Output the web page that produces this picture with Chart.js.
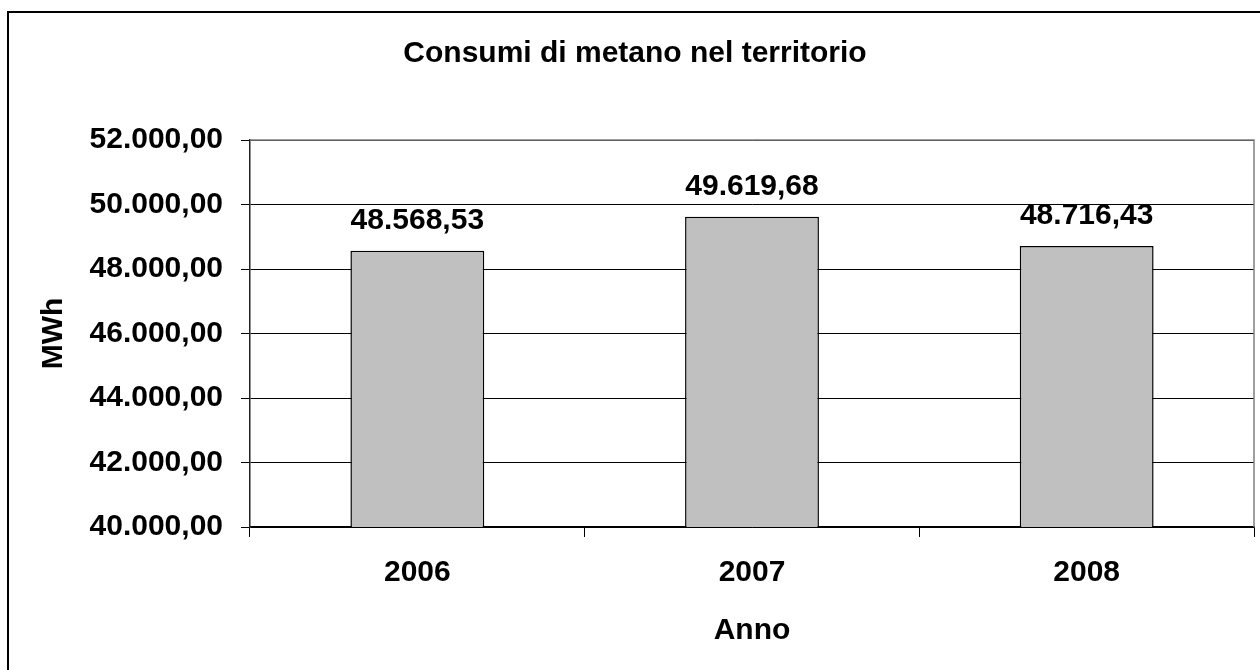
<!DOCTYPE html>
<html>
<head>
<meta charset="utf-8">
<script src="https://cdn.jsdelivr.net/npm/chart.js@4/dist/chart.umd.min.js"></script>
<style>
    body { margin: 0; background: #fff; }
    #wrap { position: relative; width: 1260px; height: 670px; overflow: hidden; }
    #frame {
        position: absolute; left: 7px; top: 11px; width: 1400px; height: 800px;
        border-top: 2px solid #000; border-left: 2px solid #000;
    }
    #chart { position: absolute; left: 0; top: 0; }
</style>
</head>
<body>
<div id="wrap">
    <div id="frame"></div>
    <canvas id="chart" width="1260" height="670"></canvas>
</div>
<script>
const anni = ['2006', '2007', '2008'];
const consumi = [48568.53, 49619.68, 48716.43];
const yMin = 40000;
const yMax = 52000;
const yStep = 2000;

const FONT = 'Arial, "Liberation Sans", sans-serif';

// formato italiano: 48.568,53
function fmt(v) {
    const parts = v.toFixed(2).split('.');
    const intPart = parts[0].replace(/\B(?=(\d{3})+(?!\d))/g, '.');
    return intPart + ',' + parts[1];
}

// bordo grigio dell'area del grafico (alto e destra)
const plotFrame = {
    id: 'plotFrame',
    beforeDatasetsDraw(chart) {
        const { ctx, chartArea: a } = chart;
        ctx.save();
        ctx.strokeStyle = '#808080';
        ctx.lineWidth = 1.5;
        ctx.beginPath();
        ctx.moveTo(a.left, a.top);
        ctx.lineTo(a.right, a.top);
        ctx.lineTo(a.right, a.bottom);
        ctx.stroke();
        ctx.restore();
    }
};

// etichette dei valori sopra le barre
const valueLabels = {
    id: 'valueLabels',
    afterDatasetsDraw(chart) {
        const ctx = chart.ctx;
        const meta = chart.getDatasetMeta(0);
        ctx.save();
        ctx.font = 'bold 30px ' + FONT;
        ctx.fillStyle = '#000';
        ctx.textAlign = 'center';
        ctx.textBaseline = 'alphabetic';
        meta.data.forEach((bar, i) => {
            ctx.fillText(fmt(consumi[i]), bar.x, bar.y - 22);
        });
        ctx.restore();
    }
};

const ctx = document.getElementById('chart').getContext('2d');

new Chart(ctx, {
    type: 'bar',
    data: {
        labels: anni,
        datasets: [{
            label: 'MWh',
            data: consumi,
            backgroundColor: '#C0C0C0',
            borderColor: '#000',
            borderWidth: 1.5,
            barPercentage: 0.4,
            categoryPercentage: 1.0
        }]
    },
    options: {
        responsive: false,
        devicePixelRatio: 1,
        animation: false,
        layout: { padding: { left: 16, right: 6, top: 0, bottom: 0 } },
        plugins: {
            legend: { display: false },
            tooltip: { enabled: false },
            title: {
                display: true,
                text: 'Consumi di metano nel territorio',
                color: '#000',
                font: { family: FONT, size: 30, weight: 'bold' },
                padding: { top: 36, bottom: 68 }
            }
        },
        scales: {
            x: {
                offset: true,
                afterFit: s => { s.height = 143; },
                grid: {
                    offset: true,
                    drawOnChartArea: false,
                    drawTicks: true,
                    tickLength: 10,
                    tickColor: '#000',
                    lineWidth: 1
                },
                border: { display: true, color: '#000', width: 1.5 },
                ticks: {
                    color: '#000',
                    padding: 18,
                    font: { family: FONT, size: 30, weight: 'bold' }
                },
                title: {
                    display: true,
                    text: 'Anno',
                    color: '#000',
                    font: { family: FONT, size: 30, weight: 'bold' },
                    padding: { top: 0, bottom: 21 }
                }
            },
            y: {
                min: yMin,
                max: yMax,
                afterFit: s => { s.width = 234; },
                grid: {
                    color: '#000',
                    lineWidth: 1,
                    drawTicks: true,
                    tickLength: 9,
                    tickColor: '#000'
                },
                border: { display: true, color: '#222', width: 1.5 },
                ticks: {
                    stepSize: yStep,
                    color: '#000',
                    padding: 18,
                    font: { family: FONT, size: 30, weight: 'bold' },
                    callback: v => fmt(v)
                },
                title: {
                    display: true,
                    text: 'MWh',
                    color: '#000',
                    font: { family: FONT, size: 30, weight: 'bold' },
                    padding: { top: 20, bottom: 0 }
                }
            }
        }
    },
    plugins: [plotFrame, valueLabels]
});
</script>
</body>
</html>
